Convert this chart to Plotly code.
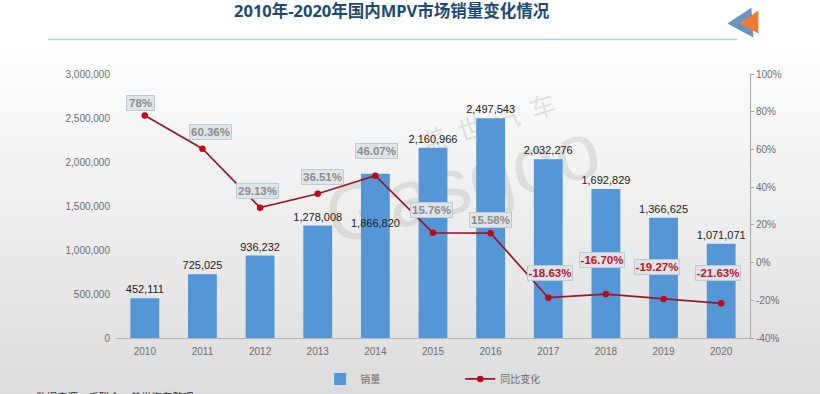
import plotly.graph_objects as go

years = ["2010","2011","2012","2013","2014","2015","2016","2017","2018","2019","2020"]
sales = [452111,725025,936232,1278008,1866820,2160966,2497543,2032276,1692829,1366625,1071071]
yoy = [78,60.36,29.13,36.51,46.07,15.76,15.58,-18.63,-16.70,-19.27,-21.63]
yoy_labels = ["78%","60.36%","29.13%","36.51%","46.07%","15.76%","15.58%","-18.63%","-16.70%","-19.27%","-21.63%"]
label_dx = [-4,8,-3,5,1,-2,0,2,-4,-7,-3]
label_dy = [12,17,17,17,25,23,13,25,34,32,30]
label_w = [27,41,41,41,41,41,41,44,44,44,44]
left_ticks = [0,500000,1000000,1500000,2000000,2500000,3000000]
right_ticks = [-40,-20,0,20,40,60,80,100]
right_labels = ["-40%","-20%","0%","20%","40%","60%","80%","100%"]

W, H = 820, 394
L, R, T, B = 116.0, 749.6, 73.5, 338.0
def px(x): return (x - L) / (R - L)
def py(y): return (B - y) / (B - T)

FONT = "Liberation Sans, Arial, sans-serif"
CJK = "Noto Sans CJK SC, sans-serif"
TITLE_FONT = "Noto Sans, Noto Sans CJK SC, sans-serif"

fig = go.Figure()
bar_text = [f"{v:,}" if y != "2014" else "" for y, v in zip(years, sales)]
fig.add_trace(go.Bar(x=years, y=sales, name="销量", marker=dict(color="#5496d6", line=dict(width=0)),
    text=bar_text, textposition="outside", textfont=dict(family=FONT, size=11, color="#222222"),
    constraintext="none", cliponaxis=False, legend="legend"))
fig.add_trace(go.Scatter(x=years, y=yoy, name="同比变化", yaxis="y2", mode="lines+markers",
    line=dict(color="#97182c", width=1.7), marker=dict(color="#bd0a14", size=6.5),
    cliponaxis=False, legend="legend2"))

shapes = []
# background gradient
n = 70
top, bot = 40, 394
for i in range(n):
    y0 = top + (bot - top) * i / n
    y1 = top + (bot - top) * (i + 1) / n
    c = round(255 - (255 - 220) * (i / (n - 1)))
    shapes.append(dict(type="rect", xref="paper", yref="paper", x0=px(0), x1=px(W), y0=py(y0), y1=py(y1 + 1),
                       fillcolor=f"rgb({c},{c},{c})", line=dict(width=0), layer="below"))
# watermark
shapes.append(dict(type="rect", xref="paper", yref="paper", x0=px(330), x1=px(590), y0=py(105), y1=py(245),
    line=dict(width=0), fillcolor="rgba(0,0,0,0)", layer="below",
    label=dict(text="Gasgoo", textposition="middle center", textangle=-15,
               font=dict(family=FONT, size=80, color="rgba(140,140,140,0.2)"))))
shapes.append(dict(type="rect", xref="paper", yref="paper", x0=px(409), x1=px(569), y0=py(90), y1=py(160),
    line=dict(width=0), fillcolor="rgba(0,0,0,0)", layer="below",
    label=dict(text="盖  世  汽  车", textposition="middle center", textangle=-17,
               font=dict(family=CJK, size=26, color="rgba(140,140,140,0.22)"))))
# title rule
shapes.append(dict(type="line", xref="paper", yref="paper", x0=px(48), x1=px(737), y0=py(39), y1=py(39),
                   line=dict(color="#b3cdd8", width=1.5)))
# corner arrows
def tri(pts):
    return "M " + " L ".join(f"{px(a):.5f} {py(b):.5f}" for a, b in pts) + " Z"
shapes.append(dict(type="path", xref="paper", yref="paper", path=tri([(727,23),(751,7),(753,37)]),
                   fillcolor="#6794c4", line=dict(width=0)))
shapes.append(dict(type="path", xref="paper", yref="paper", path=tri([(739,23),(758,10),(758,33)]),
                   fillcolor="#ed7d31", line=dict(width=0)))

ann = []
for i, (v, t) in enumerate(zip(yoy, yoy_labels)):
    ann.append(dict(x=i, y=v, xref="x", yref="y2", text=f"<b>{t}</b>", showarrow=False,
        xshift=label_dx[i], yshift=label_dy[i], width=label_w[i], height=14,
        bgcolor="#dfe4e8", bordercolor="#b9ccd8", borderwidth=1, borderpad=0,
        font=dict(family=FONT, size=11.5, color="#c0141f" if v < 0 else "#8c8c8c")))
ann.append(dict(x=4, y=sales[4], xref="x", yref="y", text=f"{sales[4]:,}", showarrow=False, yshift=-49,
                font=dict(family=FONT, size=11, color="#222222")))
ann.append(dict(x=px(392), y=py(10), xref="paper", yref="paper", showarrow=False, xanchor="center", yanchor="middle",
    text="<b>2010年-2020年国内MPV市场销量变化情况</b>", font=dict(family=TITLE_FONT, size=16.5, color="#1a4a78")))
ann.append(dict(x=px(34), y=py(397), xref="paper", yref="paper", showarrow=False, xanchor="left", yanchor="middle",
    text="数据来源：乘联会，盖世汽车整理", font=dict(family=CJK, size=10.5, color="#333333")))

axis_font = dict(family=FONT, size=10, color="#6e6e6e")
fig.update_layout(
    width=W, height=H, margin=dict(l=L, r=W - R, t=T, b=H - B, autoexpand=False),
    paper_bgcolor="white", plot_bgcolor="rgba(0,0,0,0)", bargap=0.5,
    shapes=shapes, annotations=ann, showlegend=True,
    xaxis=dict(type="category", range=[-0.5, 10.5], showgrid=False, showline=True, linecolor="#b5b5b5", linewidth=1,
               ticks="", tickfont=axis_font, ticklabelstandoff=4),
    yaxis=dict(range=[0,3000000], tickvals=left_ticks, tickformat=",d", showgrid=False, zeroline=False,
               showline=False, ticks="", tickfont=axis_font, ticklabelstandoff=5),
    yaxis2=dict(range=[-40,100], tickvals=right_ticks, ticktext=right_labels, overlaying="y", side="right",
                showgrid=False, zeroline=False, showline=True, linecolor="#a6a6a6", linewidth=1,
                ticks="outside", ticklen=3, tickcolor="#a6a6a6", tickfont=axis_font),
    legend=dict(x=px(320), y=py(379), xanchor="left", yanchor="middle", bgcolor="rgba(0,0,0,0)",
                font=dict(family=CJK, size=10, color="#6e6e6e")),
    legend2=dict(x=px(460), y=py(379), xanchor="left", yanchor="middle", bgcolor="rgba(0,0,0,0)",
                 font=dict(family=CJK, size=10, color="#6e6e6e")),
)
fig.write_html("out.html", config=dict(displayModeBar=False), post_script="document.body.style.margin='0';")
